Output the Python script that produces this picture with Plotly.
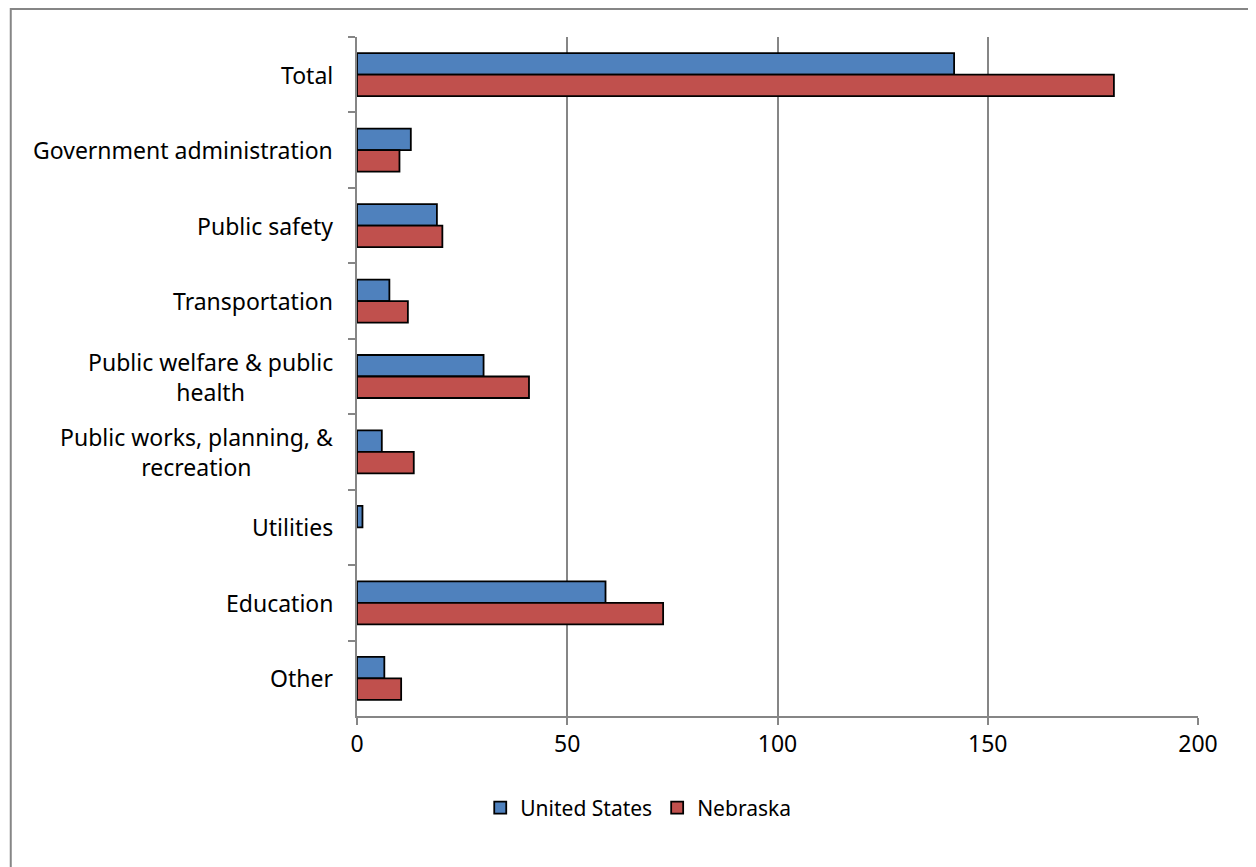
import plotly.graph_objects as go

categories = ["Total", "Government administration", "Public safety", "Transportation",
              "Public welfare & public<br>health", "Public works, planning, &<br>recreation",
              "Utilities", "Education", "Other"]
us_values = [142, 12.8, 19.0, 7.7, 30.1, 5.9, 1.3, 59.1, 6.5]
ne_values = [180, 10.1, 20.3, 12.1, 40.9, 13.5, 0, 72.8, 10.5]
x_ticks = [0, 50, 100, 150, 200]

FONT = "Noto Sans"
GRAY = "#868686"

# zero-length bars are not drawn in the reference
ne_plot = [v if v else None for v in ne_values]

fig = go.Figure()
fig.add_trace(go.Bar(y=categories, x=us_values, orientation="h", name="United States",
                     marker=dict(color="#4F81BD", line=dict(color="black", width=1.8))))
fig.add_trace(go.Bar(y=categories, x=ne_plot, orientation="h", name="Nebraska",
                     marker=dict(color="#C0504D", line=dict(color="black", width=1.8))))

# category labels as centre-aligned annotations (multi-line labels are centred in the reference)
annotations = [dict(text=c, xref="paper", yref="y", x=0, y=c, xanchor="right",
                    yanchor="middle", xshift=-22, align="center", showarrow=False,
                    font=dict(size=23, family=FONT, color="black"))
               for c in categories]

fig.update_layout(
    width=1248, height=859,
    margin=dict(l=349, r=58, t=29, b=151),
    paper_bgcolor="white", plot_bgcolor="white",
    barmode="group", bargap=0.43, bargroupgap=0,
    font=dict(family=FONT, size=23, color="black"),
    showlegend=True,
    legend=dict(orientation="h", xref="container", yref="container",
                x=0.505, y=0.0687, xanchor="center", yanchor="middle",
                font=dict(size=21), traceorder="normal", itemwidth=30),
    xaxis=dict(range=[0, 200], tickvals=x_ticks, showgrid=True, gridcolor=GRAY, gridwidth=1.5,
               zeroline=False, showline=True, linecolor=GRAY, linewidth=1.5,
               ticks="outside", ticklen=7, tickcolor=GRAY, tickwidth=1.5,
               tickfont=dict(size=23)),
    yaxis=dict(autorange="reversed", showline=True, linecolor=GRAY, linewidth=1.5,
               ticks="outside", ticklen=7, tickcolor=GRAY, tickwidth=1.5,
               tickson="boundaries", showgrid=False, showticklabels=False),
    annotations=annotations,
    shapes=[dict(type="rect", xref="paper", yref="paper",
                 x0=-0.4117, x1=1.08, y0=-0.25, y1=1.0412,
                 line=dict(color=GRAY, width=2), fillcolor="rgba(0,0,0,0)", layer="below")],
)

fig.write_html("out.html")
